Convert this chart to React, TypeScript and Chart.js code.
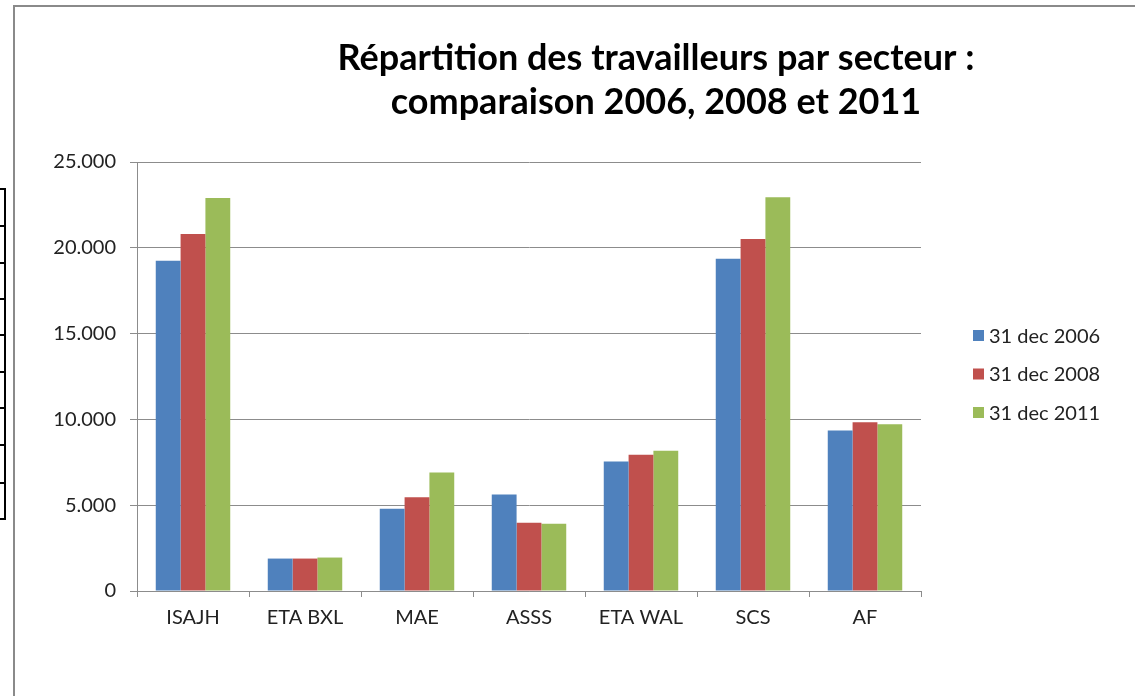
import React, { useEffect, useRef } from "react";
import { Chart, registerables } from "chart.js";

Chart.register(...registerables);

const categories = ["ISAJH", "ETA BXL", "MAE", "ASSS", "ETA WAL", "SCS", "AF"];
const seriesLabels = ["31 dec 2006", "31 dec 2008", "31 dec 2011"];
const values2006 = [19250, 1890, 4800, 5630, 7550, 19360, 9350];
const values2008 = [20800, 1890, 5460, 3980, 7940, 20520, 9840];
const values2011 = [22900, 1950, 6900, 3920, 8180, 22950, 9720];
const seriesColors = ["#4F81BD", "#C0504D", "#9BBB59"];
const titleLines = ["Répartition des travailleurs par secteur :", "comparaison 2006, 2008 et 2011"];
const yMin = 0;
const yMax = 25000;
const yStep = 5000;

const FONT = "Lato, 'Open Sans', sans-serif";

const formatThousands = (v: number) =>
  String(Math.round(v)).replace(/\B(?=(\d{3})+(?!\d))/g, ".");

const titlePlugin = {
  id: "customTitle",
  afterDraw(chart: any) {
    const ctx = chart.ctx;
    ctx.save();
    ctx.fillStyle = "#000";
    ctx.font = `bold 36px ${FONT}`;
    ctx.textAlign = "center";
    ctx.textBaseline = "alphabetic";
    const cx = 656;
    ctx.fillText(titleLines[0], cx, 70);
    ctx.fillText(titleLines[1], cx, 114);
    ctx.restore();
  },
};

const sideLegendPlugin = {
  id: "sideLegend",
  afterDraw(chart: any) {
    const ctx = chart.ctx;
    const area = chart.chartArea;
    const x0 = area.right + 52;
    const cy = 374;
    ctx.save();
    chart.data.datasets.forEach((ds: any, i: number) => {
      const y = cy + (i - 1) * 38.5;
      ctx.fillStyle = ds.backgroundColor;
      ctx.fillRect(x0, y - 5.5, 11, 11);
      ctx.fillStyle = "#222";
      ctx.font = `20px ${FONT}`;
      ctx.textBaseline = "middle";
      ctx.textAlign = "left";
      ctx.fillText(ds.label, x0 + 16, y + 1);
    });
    ctx.restore();
  },
};

function BarChart() {
  const ref = useRef<HTMLCanvasElement | null>(null);
  useEffect(() => {
    if (!ref.current) return;
    const series = [values2006, values2008, values2011];
    const chart = new Chart(ref.current, {
      type: "bar",
      data: {
        labels: categories,
        datasets: series.map((vals, i) => ({
          label: seriesLabels[i],
          data: vals,
          backgroundColor: seriesColors[i],
          borderWidth: 0,
          categoryPercentage: 0.665,
          barPercentage: 1.0,
        })),
      },
      options: {
        responsive: false,
        animation: false,
        devicePixelRatio: 1,
        layout: { padding: { left: 20, right: 214, top: 162, bottom: 55 } },
        plugins: {
          legend: { display: false },
          title: { display: false },
          tooltip: { enabled: false },
        },
        scales: {
          x: {
            grid: {
              display: true,
              drawOnChartArea: false,
              drawTicks: true,
              tickLength: 6,
              color: "#8c8c8c",
              lineWidth: 1,
              offset: true,
            },
            border: { display: true, color: "#8c8c8c", width: 1 },
            ticks: {
              color: "#222",
              font: { family: FONT, size: 20 },
              padding: 9,
              maxRotation: 0,
              autoSkip: false,
            },
            afterFit: (scale: any) => {
              scale.height = 50;
            },
          },
          y: {
            min: yMin,
            max: yMax,
            grid: {
              display: true,
              drawOnChartArea: true,
              drawTicks: true,
              tickLength: 7,
              color: "#8c8c8c",
              lineWidth: 1,
            },
            border: { display: true, color: "#8c8c8c", width: 1 },
            ticks: {
              stepSize: yStep,
              color: "#222",
              font: { family: FONT, size: 20 },
              padding: 14,
              callback: (v: any) => formatThousands(Number(v)),
            },
            afterFit: (scale: any) => {
              scale.width = 117;
            },
          },
        },
      },
      plugins: [titlePlugin, sideLegendPlugin],
    } as any);
    return () => chart.destroy();
  }, []);
  return <canvas ref={ref} width={1135} height={696} style={{ position: "absolute", left: 0, top: 0 }} />;
}

export default function App() {
  const tableRules = [188, 225, 262, 298, 334, 371, 407, 444, 482, 518];
  return (
    <div
      style={{
        position: "fixed",
        left: 0,
        top: 0,
        width: 1135,
        height: 696,
        background: "#fff",
        overflow: "hidden",
      }}
    >
      <div
        style={{
          position: "absolute",
          left: 13,
          top: 5,
          width: 1300,
          height: 900,
          borderLeft: "2px solid #8a8a8a",
          borderTop: "2px solid #8a8a8a",
        }}
      />
      <div
        style={{
          position: "absolute",
          left: 4,
          top: 188,
          width: 2,
          height: 332,
          background: "#000",
        }}
      />
      {tableRules.map((y) => (
        <div
          key={y}
          style={{ position: "absolute", left: 0, top: y, width: 6, height: 2, background: "#000" }}
        />
      ))}
      <BarChart />
    </div>
  );
}
